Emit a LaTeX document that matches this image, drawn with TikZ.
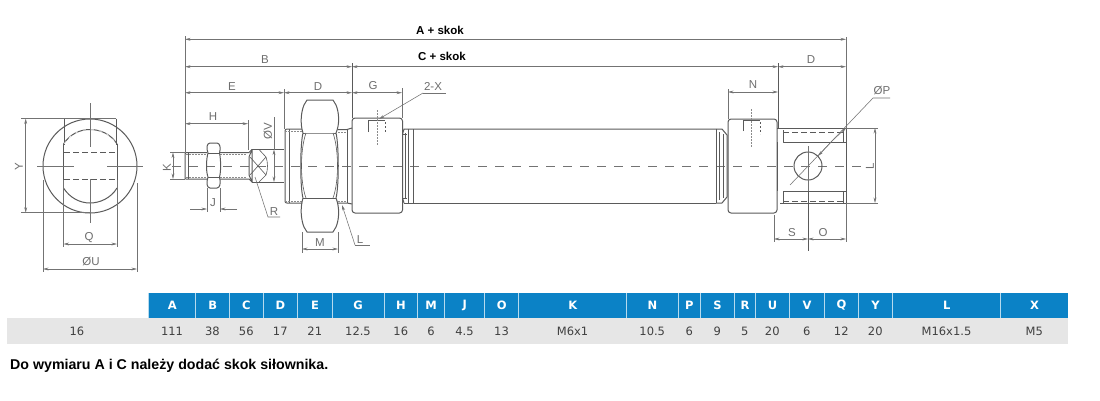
\documentclass[tikz,border=0pt]{standalone}
\usepackage{fontspec}
\setmainfont{Liberation Sans}
\newfontfamily\tabfont{DejaVu Sans}
\usetikzlibrary{arrows.meta}
\definecolor{ink}{HTML}{5A5A5A}
\definecolor{lab}{HTML}{6E6E6E}
\definecolor{headblue}{HTML}{0B82C6}
\definecolor{rowgrey}{HTML}{E6E6E6}
\tikzset{
  part/.style={draw=ink,line width=1pt,line join=round},
  thin part/.style={draw=ink,line width=0.6pt},
  ext/.style={draw=ink!85,line width=0.55pt},
  dimline/.style={draw=ink!85,line width=0.55pt,{Stealth[length=5.5pt,width=2.8pt]}-{Stealth[length=5.5pt,width=2.8pt]}},
  tip/.style={draw=ink!85,line width=0.55pt,-{Stealth[length=5.5pt,width=2.8pt]}},
  centre/.style={draw=ink!85,line width=0.55pt,dash pattern=on 9pt off 8pt},
  hid/.style={draw=ink,line width=0.6pt,dash pattern=on 6pt off 3pt},
  dots/.style={draw=ink!70,line width=0.5pt,dash pattern=on 1.5pt off 1.5pt},
  lbl/.style={text=lab,font=\fontsize{11.5}{13}\selectfont,inner sep=0pt},
  bigl/.style={text=black,font=\fontsize{11.5}{13}\selectfont\bfseries,inner sep=0pt},
  hcell/.style={fill=headblue,draw=none,text=white,inner sep=0pt,anchor=north west,font=\tabfont\fontsize{11.5}{13}\selectfont\bfseries},
  vcell/.style={text=black!75,inner sep=0pt,font=\tabfont\fontsize{11.5}{13}\selectfont},
}
\begin{document}
\begin{tikzpicture}[x=1pt,y=-1pt]
\useasboundingbox[fill=white] (0,0) rectangle (1100,400);

% ---------- end view
\draw[part] (90,166) circle (47);
\draw[thin part] (64,118.5) -- (64,145) (116,118.5) -- (116,145);
\draw[part] (63.5,144) -- (63.5,188);
\draw[part] (117,144) -- (117,188);
\draw[part] (63.5,144) .. controls (70,134) and (80,129.5) .. (90,129.5) .. controls (100,129.5) and (111,134) .. (117,144);
\draw[part] (63.5,188) .. controls (70,198) and (80,203) .. (90,203) .. controls (100,203) and (111,198) .. (117,188);
\draw[draw=white,line width=0.5pt,dash pattern=on 3pt off 5pt] (64,144) .. controls (70,134) and (80,129.5) .. (90,129.5) .. controls (100,129.5) and (111,134) .. (116,144);
\draw[hid] (64,152) -- (117,152);
\draw[hid] (64,179) -- (117,179);
\draw[ext] (90,103) -- (90,147) (90,179) -- (90,223);
\draw[ext] (37,166) -- (74,166) (107,166) -- (143,166);
\draw[ext] (21,118.5) -- (116,118.5) (21,212.7) -- (90,212.7);
\draw[dimline] (25.7,118.5) -- (25.7,212.7);
\node[lbl,rotate=90] (tY) at (19,167) {Y};
\draw[ext] (63.5,180) -- (63.5,247) (117,180) -- (117,247);
\draw[dimline] (63.5,244) -- (117,244);
\node[lbl] (tQ) at (89,238) {Q};
\draw[ext] (43,180) -- (43,272) (137,183) -- (137,272);
\draw[dimline] (43,269) -- (137,269);
\node[lbl] (tU) at (91,262) {ØU};

% ---------- overall dimensions
\draw[ext] (185,36) -- (185,152);
\draw[ext] (846,37) -- (846,242);
\draw[dimline] (185,39.3) -- (846,39.3);
\node[bigl] (tA) at (440,30) {A + skok};
\draw[dimline] (352,66.7) -- (778,66.7);
\node[bigl] (tC) at (442,56) {C + skok};
\draw[dimline] (185,66.7) -- (352,66.7);
\node[lbl] (tB) at (265,60) {B};
\draw[dimline] (778,66.7) -- (846,66.7);
\node[lbl] (tD2) at (811,59.5) {D};
\draw[line width=0.8pt,draw=ink] (352,63) -- (352,118);
\draw[line width=0.8pt,draw=ink] (778,63) -- (778,128);
\draw[ext] (284,89) -- (284,129);
\draw[dimline] (185,92.7) -- (284,92.7);
\node[lbl] (tE) at (232,87) {E};
\draw[dimline] (284,92.7) -- (352,92.7);
\node[lbl] (tD) at (318,87) {D};
\draw[ext] (402,88) -- (402,118);
\draw[dimline] (352,92.7) -- (402,92.7);
\node[lbl] (tG) at (373,85.5) {G};
\draw[ext] (248,120) -- (248,150);
\draw[dimline] (185,123.7) -- (248,123.7);
\node[lbl] (tH) at (213,117) {H};

% ---------- centre line
\draw[centre] (172,166) -- (866,166);

% ---------- piston rod
\draw[part] (207,152.5) -- (186,152.5) .. controls (185,152.5) and (185,153) .. (185,154) -- (185,177) .. controls (185,178.5) and (185,179) .. (186,179) -- (207,179);
\draw[part] (220,152.5) -- (249,152.5) -- (252,149.5);
\draw[part] (220,179) -- (249,179) -- (252,182);
\draw[dots] (186,154.5) -- (207,154.5) (186,177) -- (207,177) (220,154.5) -- (246,154.5) (220,177) -- (246,177);
\draw[thin part] (188,153) -- (188,179);
% lock nut
\draw[part] (208,153) .. controls (206,148) and (207,143) .. (210,143) -- (217,143) .. controls (220,143) and (221,148) .. (219.5,153)
  .. controls (221,160) and (221,172) .. (219.5,177) .. controls (221,183) and (220,188) .. (217,188) -- (210,188) .. controls (207,188) and (206,183) .. (208,177)
  .. controls (206,172) and (206,160) .. (208,153);
\draw[thin part] (208,153) -- (219.5,153) (208,177) -- (219.5,177);
% spanner flats
\draw[part] (252,149.5) -- (284,149.5) (252,182) -- (284,182);
\draw[part] (249,157) -- (249,175) -- (252,182) -- (252,149.5) -- cycle;
\draw[thin part] (252,149.5) -- (259,149.5) -- (266,157) .. controls (268,162) and (268,170) .. (266,175) -- (259,182);
\draw[thin part] (250,157) -- (266,175) (250,175) -- (266,157);
% ØV
\draw[ext] (274,117) -- (274,149.5);
\draw[tip] (274,165) -- (274,149.5);
\draw[tip] (274,165) -- (274,182);
\node[lbl,rotate=90] (tV) at (268,131) {ØV};
% J
\draw[ext] (207,188) -- (207,212) (220,188) -- (220,212);
\draw[tip] (190,209) -- (207,209);
\draw[tip] (237,209) -- (220,209);
\node[lbl] (tJ) at (213,203) {J};
% K
\draw[ext] (170,152.5) -- (185,152.5) (170,179) -- (185,179);
\draw[dimline] (173,152.5) -- (173,179);
\node[lbl,rotate=90] (tK) at (167,168) {K};
% R
\draw[ext] (255,177) -- (268,217) -- (280,217);
\node[lbl] (tR) at (274,211.5) {R};

% ---------- thread boss and mounting nut
\draw[part] (302,129) -- (287,129) .. controls (285.5,129) and (285,130) .. (285,131) -- (285,201) .. controls (285,202.5) and (285.5,203) .. (287,203) -- (302,203);
\draw[part] (338,129.5) -- (347,129.5) -- (352,128) (338,203) -- (347,203) -- (352,204);
\draw[thin part] (289,129) -- (289,203) (347,129.5) -- (347,203);
\draw[dots] (285,131) -- (302,131) (338,132) -- (347,132) (285,201) -- (302,201) (338,201) -- (347,201);
\draw[part] (303,133) .. controls (300,124) and (301,112) .. (304,105) -- (307,100) -- (333,100) -- (336,105) .. controls (339,112) and (340,124) .. (336,133)
  .. controls (339,145) and (339,187) .. (336,198)
  .. controls (340,208) and (339,220) .. (336,227) -- (333,232) -- (307,232) -- (304,227) .. controls (301,220) and (300,208) .. (303,198)
  .. controls (300,187) and (300,145) .. (303,133);
\draw[thin part] (303,133) -- (306,133) -- (333,133) -- (336,133);
\draw[thin part] (303,198) -- (336,198);
\draw[thin part] (306,133) .. controls (300,150) and (300,182) .. (306,198);
\draw[thin part] (333,133) .. controls (339,150) and (339,182) .. (333,198);
% M and L
\draw[ext] (302,232) -- (302,253) (338,232) -- (338,253);
\draw[dimline] (302,249) -- (338,249);
\node[lbl] (tM) at (320,243) {M};
\draw[tip] (355,245) -- (342,205);
\draw[ext] (355,245) -- (370,245);
\node[lbl] (tL) at (360,240) {L};

% ---------- front head
\draw[part,rounded corners=3pt] (352,118) rectangle (402.5,213);
\draw[thin part] (402.5,134) -- (407,134) (402.5,198) -- (407,198);
\draw[thin part] (405,133) -- (405,199);
\draw[part] (402.5,134) -- (404,129) -- (716,129) (402.5,198) -- (404,203);
\draw[part] (404,203) -- (716,203);
\draw[thin part] (408,129) -- (408,203);
\draw[thin part] (413,129) -- (413,203);
% port
\draw[thin part] (368,132) -- (368,120) -- (385,120);
\draw[dots] (377,110) -- (377,146);
\draw[thin part,dash pattern=on 2pt off 2pt] (385,122) -- (385,133);
\draw[tip] (423,93) -- (379,119);
\draw[ext] (423,93) -- (446,93);
\node[lbl] (tX) at (433,86) {2-X};

% ---------- tube end and rear head
\draw[thin part] (716,129) -- (716,203);
\draw[thin part] (719,132) -- (719,200) (723,134) -- (723,198);
\draw[part] (716,129) -- (722,129) -- (727,135) -- (727,197) -- (722,203) -- (716,203);
\draw[part,rounded corners=3pt] (728,119) rectangle (777,213);
\draw[thin part] (743,131) -- (743,120) -- (760,120);
\draw[dots] (751,109) -- (751,147);
\draw[thin part,dash pattern=on 2pt off 2pt] (760,122) -- (760,134);
\draw[ext] (728,89) -- (728,119);
\draw[dimline] (728,92) -- (778,92);
\node[lbl] (tN) at (753,85) {N};

% ---------- clevis
\draw[part] (777,128) -- (846,128) -- (846,203) -- (780,203);
\draw[part] (777,142) -- (777,191);
\draw[part] (783,130) -- (783,142) -- (846,142);
\draw[part] (783,191) -- (783,203) (783,191) -- (846,191);
\draw[hid] (783,132) -- (846,132) (783,201) -- (846,201);
\draw[thin part] (843,129) -- (843,142) (843,191) -- (843,203);
\draw[part] (808,166) circle (14);
\draw[ext] (846,128) -- (878,128) (846,203) -- (878,203);
\draw[dimline] (875,128) -- (875,203);
\node[lbl,rotate=90] (tL2) at (870,166) {L};
% ØP
\draw[ext] (790,185) -- (873,98) -- (890,98);
\draw[tip] (833,140) -- (846,128);
\draw[tip] (833,140) -- (818,156);
\node[lbl] (tP) at (882,91) {ØP};
% S O
\draw[ext] (808,146) -- (808,191);
\draw[part] (808,191) -- (808,251);
\draw[ext] (774,215) -- (774,242);
\draw[dimline] (774,239) -- (808,239);
\draw[dimline] (808,239) -- (846,239);
\node[lbl] (tS) at (792,233) {S};
\node[lbl] (tO) at (823,233) {O};

% ---------- table
\fill[rowgrey] (7,318) rectangle (1068,344);
\node[vcell] (v0) at (77,331.5) {16};
\foreach \n/\a/\b/\h/\v in {
  a/148.5/195.5/A/111, b/195.5/229.5/B/38, c/229.5/263/C/56, d/263/297.5/D/17,
  e/297.5/332/E/21, g/332/384/G/12.5, i/384/417.5/H/16, m/417.5/444.5/M/6,
  j/444.5/484.5/J/4.5, o/484.5/518.5/O/13, k/518.5/626.5/K/M6x1, n/626.5/678/N/10.5,
  p/678/700.5/P/6, s/700.5/734/S/9, r/734/755.5/R/5, u/755.5/789/U/20,
  w/789/824.5/V/6, q/824.5/858/Q/12, y/858/892.5/Y/20, l/892.5/1000.5/L/M16x1.5,
  x/1000.5/1068/X/M5}{
  \pgfmathsetmacro{\wid}{\b-\a}
  \pgfmathsetmacro{\mid}{(\a+\b)/2}
  \node[hcell,minimum width=\wid pt,minimum height=25.5pt,draw=none] (h\n) at (\a,292.5) {\h};
  \draw[white!70!headblue,line width=0.5pt] (\a,292.5) -- (\a,318);
  \node[vcell] (v\n) at (\mid,331.5) {\v};
}
\node[text=black,inner sep=0pt,anchor=west,font=\fontsize{14.2}{16}\selectfont\bfseries] (note) at (10,366) {Do wymiaru A i C należy dodać skok siłownika.};
\end{tikzpicture}
\end{document}
